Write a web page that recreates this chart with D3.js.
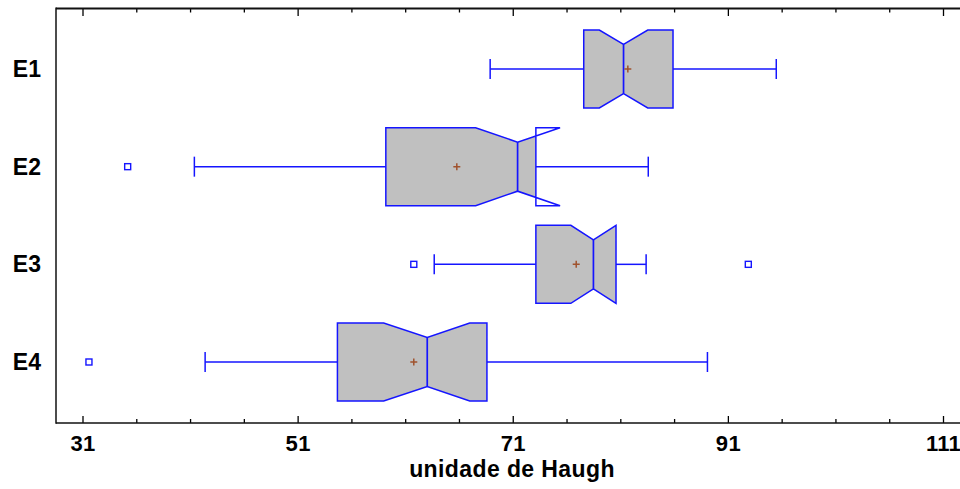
<!DOCTYPE html>
<html>
<head>
<meta charset="utf-8">
<script src="https://cdn.jsdelivr.net/npm/d3@7"></script>
<style>
  html, body { margin: 0; padding: 0; background: #fff; }
  svg { display: block; }
  text { font-family: "Liberation Sans", Arial, sans-serif; font-weight: bold; fill: #000; }
</style>
</head>
<body>
<svg id="chart" width="960" height="489"></svg>
<script>
// Haugh unit distribution per group (notched box-and-whisker)
const groups      = ["E1", "E2", "E3", "E4"];
const whiskerLow  = [68.9, 41.4, 63.7, 42.4];
const q1          = [77.6, 59.2, 73.15, 54.7];
const notchLow    = [79.05, 67.55, 76.4, 59.0];
const median      = [81.3, 71.45, 78.5, 63.05];
const notchHigh   = [83.55, 75.4, 80.6, 67.0];
const q3          = [85.9, 73.15, 80.6, 68.6];
const whiskerHigh = [95.5, 83.6, 83.4, 89.1];
const means       = [81.7, 65.8, 76.9, 61.8];
const outliers    = [[], [35.2], [61.8, 92.9], [31.6]];

const majorTicks = [31, 51, 71, 91, 111];
const minorTicks = [36, 41, 46, 56, 61, 66, 76, 81, 86, 96, 101, 106];
const xTitle = "unidade de Haugh";

const svg = d3.select("#chart");
const plotLeft = 56, plotTop = 8.5, plotBottom = 423, plotRight = 960;

const x = d3.scaleLinear().domain([31, 111]).range([82.5, 943]);
const y = d3.scalePoint().domain(groups).range([69, 362]);

const boxHalf = 39, notchHalf = 24.5, capHalf = 10;
const blue = "#1515ff", fillGray = "#c0c0c0";

const rows = groups.map((g, i) => ({
  g, wl: whiskerLow[i], q1: q1[i], nl: notchLow[i], med: median[i],
  nh: notchHigh[i], q3: q3[i], wh: whiskerHigh[i], mean: means[i], out: outliers[i]
}));

// axes: ticks point into the plot from the top and bottom edges
const axB = svg.append("g").attr("transform", `translate(0,${plotBottom})`)
  .call(d3.axisBottom(x).tickValues(majorTicks).tickSize(-7).tickPadding(16).tickFormat(d3.format("d")));
axB.select(".domain").remove();
axB.selectAll("line").attr("stroke", "#000").attr("stroke-width", 1.3);
axB.selectAll("text").attr("font-size", 22).attr("letter-spacing", "0.3px").attr("fill", "#000")
  .attr("dy", "0.55em").attr("font-family", "Liberation Sans, Arial, sans-serif");

const axBm = svg.append("g").attr("transform", `translate(0,${plotBottom})`)
  .call(d3.axisBottom(x).tickValues(minorTicks).tickSize(-4).tickFormat(""));
axBm.select(".domain").remove();
axBm.selectAll("line").attr("stroke", "#000").attr("stroke-width", 1.3);

const axT = svg.append("g").attr("transform", `translate(0,${plotTop})`)
  .call(d3.axisTop(x).tickValues(majorTicks).tickSize(-7.5).tickFormat(""));
axT.select(".domain").remove();
axT.selectAll("line").attr("stroke", "#000").attr("stroke-width", 1.3);

const axTm = svg.append("g").attr("transform", `translate(0,${plotTop})`)
  .call(d3.axisTop(x).tickValues(minorTicks).tickSize(-4).tickFormat(""));
axTm.select(".domain").remove();
axTm.selectAll("line").attr("stroke", "#000").attr("stroke-width", 1.3);

// frame lines
svg.append("line").attr("x1", plotLeft).attr("x2", plotRight).attr("y1", plotTop).attr("y2", plotTop)
  .attr("stroke", "#111").attr("stroke-width", 2);
svg.append("line").attr("x1", plotLeft).attr("x2", plotRight).attr("y1", plotBottom).attr("y2", plotBottom)
  .attr("stroke", "#111").attr("stroke-width", 1.5);
svg.append("line").attr("x1", plotLeft).attr("x2", plotLeft).attr("y1", plotTop - 1).attr("y2", plotBottom + 0.75)
  .attr("stroke", "#111").attr("stroke-width", 1.5);

// category labels
svg.append("g").selectAll("text").data(groups).join("text")
  .attr("x", 41).attr("y", d => y(d) + 8)
  .attr("text-anchor", "end").attr("font-size", 23)
  .text(d => d);

// axis title
svg.append("text").attr("x", 512).attr("y", 477).attr("text-anchor", "middle")
  .attr("font-size", 23).attr("letter-spacing", "0.4px").text(xTitle);

// clip each box fill to [Q1, Q3] so a notch reaching past a hinge stays unfilled
const defs = svg.append("defs");
rows.forEach((r, i) => {
  defs.append("clipPath").attr("id", "clip" + i).append("rect")
    .attr("x", x(r.q1)).attr("y", y(r.g) - boxHalf - 2)
    .attr("width", x(r.q3) - x(r.q1)).attr("height", 2 * boxHalf + 4);
});

function boxPoints(r) {
  const c = y(r.g);
  return [
    [x(r.q1), c - boxHalf], [x(r.nl), c - boxHalf], [x(r.med), c - notchHalf],
    [x(r.nh), c - boxHalf], [x(r.q3), c - boxHalf], [x(r.q3), c + boxHalf],
    [x(r.nh), c + boxHalf], [x(r.med), c + notchHalf], [x(r.nl), c + boxHalf],
    [x(r.q1), c + boxHalf]
  ];
}
const poly = d3.line().curve(d3.curveLinearClosed);

const boxes = svg.append("g").selectAll("g").data(rows).join("g");

// whiskers and caps
boxes.append("line").attr("x1", d => x(d.wl)).attr("x2", d => x(d.q1))
  .attr("y1", d => y(d.g)).attr("y2", d => y(d.g)).attr("stroke", blue).attr("stroke-width", 1.5);
boxes.append("line").attr("x1", d => x(d.q3)).attr("x2", d => x(d.wh))
  .attr("y1", d => y(d.g)).attr("y2", d => y(d.g)).attr("stroke", blue).attr("stroke-width", 1.5);
boxes.append("line").attr("x1", d => x(d.wl)).attr("x2", d => x(d.wl))
  .attr("y1", d => y(d.g) - capHalf).attr("y2", d => y(d.g) + capHalf).attr("stroke", blue).attr("stroke-width", 1.5);
boxes.append("line").attr("x1", d => x(d.wh)).attr("x2", d => x(d.wh))
  .attr("y1", d => y(d.g) - capHalf).attr("y2", d => y(d.g) + capHalf).attr("stroke", blue).attr("stroke-width", 1.5);

// notched box fill and outline
boxes.append("path").attr("d", d => poly(boxPoints(d)))
  .attr("fill", fillGray).attr("stroke", "none")
  .attr("clip-path", (d, i) => `url(#clip${i})`);
boxes.append("path").attr("d", d => poly(boxPoints(d)))
  .attr("fill", "none").attr("stroke", blue).attr("stroke-width", 1.5).attr("stroke-linejoin", "miter");
// median line
boxes.append("line").attr("x1", d => x(d.med)).attr("x2", d => x(d.med))
  .attr("y1", d => y(d.g) - notchHalf).attr("y2", d => y(d.g) + notchHalf)
  .attr("stroke", blue).attr("stroke-width", 1.7);

// mean markers
const meanColor = "#a0522d";
boxes.append("path")
  .attr("d", d => `M${x(d.mean) - 3.5},${y(d.g)}H${x(d.mean) + 3.5}M${x(d.mean)},${y(d.g) - 3.5}V${y(d.g) + 3.5}`)
  .attr("stroke", meanColor).attr("stroke-width", 1.5);

// outliers
boxes.selectAll("rect.out").data(d => d.out.map(v => ({ v, g: d.g }))).join("rect")
  .attr("class", "out")
  .attr("x", d => x(d.v) - 3).attr("y", d => y(d.g) - 3)
  .attr("width", 6).attr("height", 6)
  .attr("fill", "#fff").attr("stroke", blue).attr("stroke-width", 1.4);
</script>
</body>
</html>
